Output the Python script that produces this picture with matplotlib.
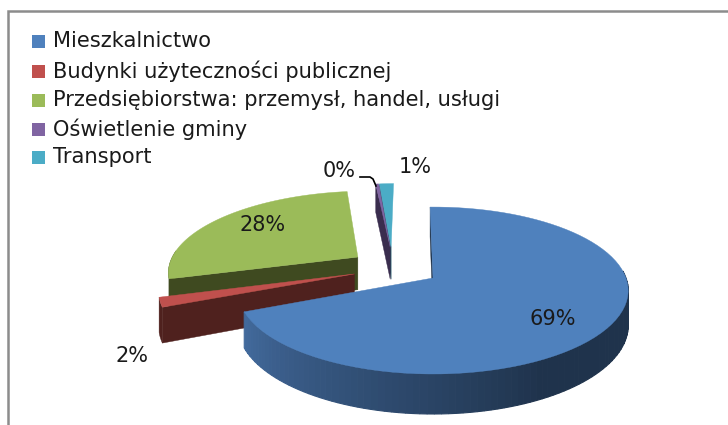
import numpy as np
import matplotlib
matplotlib.use("Agg")
import matplotlib.pyplot as plt
from matplotlib.colors import to_rgb

# dane
categories = ['Mieszkalnictwo', 'Budynki użyteczności publicznej',
              'Przedsiębiorstwa: przemysł, handel, usługi', 'Oświetlenie gminy', 'Transport']
values = [68.9, 1.9, 27.5, 0.3, 1.4]
pct_labels = ['69%', '2%', '28%', '0%', '1%']

top_colors = ['#4f81bd', '#c0504d', '#9bbb59', '#8064a2', '#4bacc6']
face_colors = ['#1f334c', '#4f211e', '#3f4a20', '#3a2d4e', '#1f5566']
offsets = [(0, 0), (-0.41, 0.05), (-0.405, 0.267), (-0.235, 0.40), (-0.23, 0.40)]
label_pos = [(553, 319), (132, 356), (263, 225), (339, 171), (415, 167)]

# rzut perspektywiczny koła na piksele
CX, CY, A, B, K, DEPTH = 433, 278, 193, 81.6, 0.15, 34


def project(u, v, down=False):
    w = 1 + K * v
    x = CX + A * u / w
    y = CY - B * v / w
    if down:
        y = y + DEPTH / w
    return x, y


def rim(t0, t1, off, n=80, down=False):
    t = np.radians(np.linspace(t0, t1, n))
    return project(np.sin(t) + off[0], np.cos(t) + off[1], down)


def draw_face(ax, p0, p1, color, zorder):
    x0, y0 = project(p0[0], p0[1])
    x1, y1 = project(p1[0], p1[1])
    x2, y2 = project(p1[0], p1[1], True)
    x3, y3 = project(p0[0], p0[1], True)
    ax.fill([x0, x1, x2, x3], [y0, y1, y2, y3], color=color, lw=0.3, zorder=zorder)


fig = plt.figure(figsize=(7.28, 4.25), dpi=100)
ax = fig.add_axes([0, 0, 1, 1])
ax.set_xlim(0, 728)
ax.set_ylim(425, 0)
ax.axis('off')

# ramka
ax.plot([8, 8, 728], [425, 11, 11], color='#8c8c8c', lw=1.8, solid_joinstyle='miter', zorder=1)

# katy wycinkow (zgodnie z ruchem wskazowek od godziny 12)
angles = -1 + np.concatenate([[0], np.cumsum(values)]) * 360 / np.sum(values)

# kolejnosc rysowania: od tylu do przodu
for i in [4, 3, 2, 1, 0]:
    t0, t1 = angles[i], angles[i + 1]
    off = offsets[i]
    z = 10 + (4 - i) * 3
    rgb = np.array(to_rgb(face_colors[i]))

    # sciana boczna przy krawedzi poczatkowej wycinka
    r = np.radians(t0)
    draw_face(ax, off, (np.sin(r) + off[0], np.cos(r) + off[1]), face_colors[i], z)

    # sciana zewnetrzna - dolny luk
    if i == 0:
        edges = np.linspace(85, t1, 90)
        for a0, a1 in zip(edges[:-1], edges[1:]):
            # gradient od ciemnego (prawa) do jasniejszego (lewa)
            frac = np.clip((a0 - 150) / (t1 - 150), 0, 1)
            col = np.array(to_rgb('#1f334c')) * (1 - frac) + np.array(to_rgb('#436b9e')) * frac
            xt, yt = rim(a0, a1, off, 4)
            xb, yb = rim(a0, a1, off, 4, True)
            ax.fill(np.r_[xt, xb[::-1]], np.r_[yt, yb[::-1]], color=col, lw=0.8, zorder=z)
    elif i in (1, 2):
        xt, yt = rim(t0, min(t1, 275), off, 30)
        xb, yb = rim(t0, min(t1, 275), off, 30, True)
        ax.fill(np.r_[xt, xb[::-1]], np.r_[yt, yb[::-1]], color=rgb, lw=0.3, zorder=z)

    # gorna powierzchnia
    xr, yr = rim(t0, t1, off)
    xc, yc = project(off[0], off[1])
    ax.fill(np.r_[xc, xr], np.r_[yc, yr], color=top_colors[i], lw=0.3, zorder=z + 1)

# etykiety procentowe
for lab, (x, y) in zip(pct_labels, label_pos):
    ax.text(x, y, lab, fontsize=15, ha='center', va='center', color='#1a1a1a',
            family='DejaVu Sans', zorder=40)

# linia odniesienia dla 0%
ax.plot([360, 370, 373, 376], [177, 177, 179, 186], color='black', lw=1.2, zorder=40)

# legenda
legend_y = [41, 71, 100, 129, 157]
for name, col, y in zip(categories, top_colors, legend_y):
    ax.fill([32, 45, 45, 32], [y - 6.5, y - 6.5, y + 6.5, y + 6.5], color=col, lw=0, zorder=40)
    ax.text(53, y, name, fontsize=15.1, ha='left', va='center', color='#1a1a1a',
            family='DejaVu Sans', zorder=40)

plt.savefig('out.png', dpi=100)
